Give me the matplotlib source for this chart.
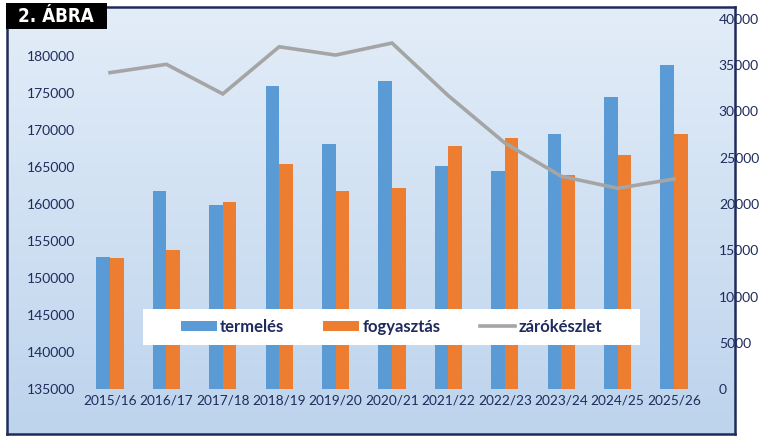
import matplotlib
matplotlib.use("Agg")
import matplotlib.pyplot as plt
import numpy as np
from matplotlib.patches import Rectangle
from matplotlib.lines import Line2D
from matplotlib.patches import Patch

categories = ["2015/16", "2016/17", "2017/18", "2018/19", "2019/20", "2020/21",
              "2021/22", "2022/23", "2023/24", "2024/25", "2025/26"]
termeles = [152900, 161700, 159800, 175900, 168100, 176600,
            165100, 164400, 169400, 174400, 178800]
fogyasztas = [152750, 153800, 160300, 165350, 161700, 162100,
              167900, 168900, 163900, 166600, 169400]
zarokeszlet = [34200, 35100, 31900, 37000, 36100, 37400,
               31700, 26600, 23000, 21700, 22700]
left_ticks = list(range(135000, 180001, 5000))
right_ticks = list(range(0, 40001, 5000))

W, H = 765, 442
fig = plt.figure(figsize=(W / 100, H / 100), dpi=100)
fig.patch.set_facecolor("white")

def fx(px):
    return px / W

def fy(py):
    return 1 - py / H

navy = "#1f2b5c"
blue = "#5b9bd5"
orange = "#ed7d31"
grey = "#a5a5a5"

# gradient background frame
fl, ft, fr, fb = 7, 7, 735, 434
bg = fig.add_axes([fx(fl), fy(fb), fx(fr - fl), (fb - ft) / H], zorder=0)
top_c = np.array([0.890, 0.929, 0.973])
bot_c = np.array([0.741, 0.831, 0.929])
t = np.linspace(0, 1, 256)[:, None, None]
grad = top_c * (1 - t) + bot_c * t
grad = np.repeat(grad, 4, axis=1)
bg.imshow(grad, aspect="auto", extent=[0, 1, 0, 1], origin="upper")
bg.set_xlim(0, 1)
bg.set_ylim(0, 1)
bg.set_xticks([])
bg.set_yticks([])
for s in bg.spines.values():
    s.set_color(navy)
    s.set_linewidth(1.8)

# main axes
ax_l, ax_r, ax_t, ax_b = 81.8, 702.2, 19, 389
ax = fig.add_axes([fx(ax_l), fy(ax_b), fx(ax_r - ax_l), (ax_b - ax_t) / H], zorder=1)
ax.set_facecolor("none")
x = np.arange(len(categories))
bw = 0.24
ax.bar(x - bw / 2, termeles, width=bw, color=blue, label="termelés", zorder=2)
ax.bar(x + bw / 2, fogyasztas, width=bw, color=orange, label="fogyasztás", zorder=2)
ax.set_ylim(135000, 185000)
ax.set_xlim(-0.5, len(categories) - 0.5)
ax.set_yticks(left_ticks)
ax.set_xticks(x)
ax.set_xticklabels(categories)
for s in ax.spines.values():
    s.set_visible(False)
ax.tick_params(axis="both", length=0, colors=navy)
ax.tick_params(axis="y", labelsize=10, pad=5)
ax.tick_params(axis="x", labelsize=9.8, pad=4)
for lab in ax.get_yticklabels() + ax.get_xticklabels():
    lab.set_fontfamily("Lato")
    lab.set_color(navy)

ax2 = ax.twinx()
ax2.set_zorder(2)
ax2.patch.set_visible(False)
ax2.plot(x, zarokeszlet, color=grey, linewidth=2.6, solid_joinstyle="miter", zorder=3)
ax2.set_ylim(0, 40000)
ax2.set_yticks(right_ticks)
for s in ax2.spines.values():
    s.set_visible(False)
ax2.tick_params(axis="y", length=0, labelsize=10, pad=12, colors=navy)
for lab in ax2.get_yticklabels():
    lab.set_fontfamily("Lato")
    lab.set_color(navy)

# legend box
lx0, lx1, ly0, ly1 = 143, 640, 309, 345
fig.patches.append(Rectangle((fx(lx0), fy(ly1)), fx(lx1 - lx0), (ly1 - ly0) / H,
                             transform=fig.transFigure, facecolor="white",
                             edgecolor="none", zorder=5))
handles = [Patch(facecolor=blue, edgecolor="none"),
           Patch(facecolor=orange, edgecolor="none"),
           Line2D([0], [0], color=grey, linewidth=2.6)]
labels = ["termelés", "fogyasztás", "zárókészlet"]
leg = fig.legend(handles, labels, ncol=3, loc="center",
                 bbox_to_anchor=(fx((lx0 + lx1) / 2), fy((ly0 + ly1) / 2)),
                 frameon=False, handlelength=2.15, handleheight=0.6,
                 handletextpad=0.2, columnspacing=2.35,
                 prop={"family": "Lato", "weight": "bold", "size": 12})
leg.set_zorder(6)
for txt in leg.get_texts():
    txt.set_color(navy)

# title tag
fig.patches.append(Rectangle((fx(6), fy(29)), fx(101), 26 / H,
                             transform=fig.transFigure, facecolor="black",
                             edgecolor="none", zorder=7))
fig.text(fx(56), fy(16.5), "2. ÁBRA", color="white", fontsize=13.5, fontweight="bold",
         family="DejaVu Sans", stretch="condensed", ha="center", va="center", zorder=8)

fig.savefig("out.png", dpi=100)
